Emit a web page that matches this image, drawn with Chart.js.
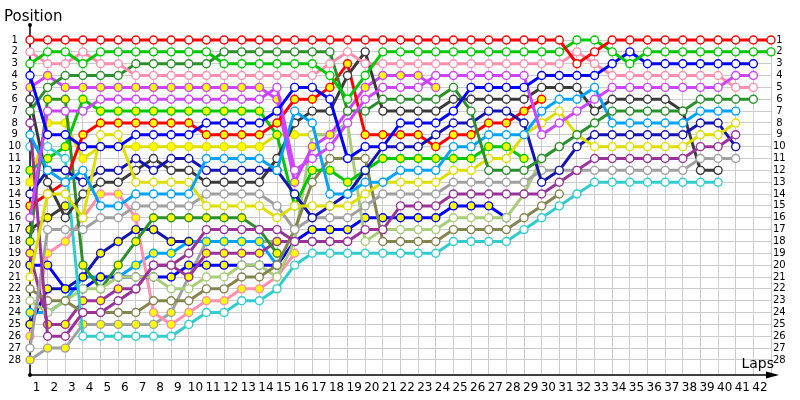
<!DOCTYPE html>
<html>
<head>
<meta charset="utf-8">
<script src="https://cdn.jsdelivr.net/npm/chart.js@4.4.0/dist/chart.umd.min.js"></script>
<style>
  html, body { margin: 0; padding: 0; background: #ffffff; }
  #wrap { width: 800px; height: 400px; }
</style>
</head>
<body>
<div id="wrap"><canvas id="lapChart" width="800" height="400"></canvas></div>
<script>
// laps 0..42 and grid positions 1..28
const laps = [0,1,2,3,4,5,6,7,8,9,10,11,12,13,14,15,16,17,18,19,20,21,22,23,24,25,26,27,28,29,30,31,32,33,34,35,36,37,38,39,40,41,42];
const positions = [1,2,3,4,5,6,7,8,9,10,11,12,13,14,15,16,17,18,19,20,21,22,23,24,25,26,27,28];

// position of each car after every lap (index = lap)
const redW       = [1,1,1,1,1,1,1,1,1,1, 1,1,1,1,1,1,1,1,1,1, 1,1,1,1,1,1,1,1,1,1, 1,3,2,1,1,1,1,1,1,1, 1,1,1];
const greenW     = [3,2,2,3,2,2,2,2,2,2, 2,3,3,3,3,3,3,4,6,4, 2,2,2,2,2,2,2,2,2,2, 2,1,1,2,3,2,2,2,2,2, 2,2,2];
const blueW      = [4,9,9,10,10,10,9,9,9,9, 8,8,8,8,7,5,5,6,11,10, 10,8,8,8,7,5,5,5,5,4, 4,4,4,3,2,3,3,3,3,3, 3,3];
const violetW    = [16,7,7,7,6,6,6,6,6,6, 6,6,6,6,5,12,11,10,8,6, 5,5,5,4,4,4,4,4,4,9, 8,7,6,5,5,5,5,5,5,5, 4,4];
const pinkW      = [2,3,3,2,3,3,4,4,4,4, 4,4,4,4,4,4,4,3,2,3, 3,3,3,3,3,3,3,3,3,3, 3,2,3,4,4,4,4,4,4,4, 5,5];
const darkgreenW = [7,5,4,4,4,4,3,3,3,3, 3,2,2,2,2,2,2,2,7,7, 6,6,6,6,5,7,12,12,12,11, 10,9,8,7,7,7,7,7,6,6, 6,6];
const lightblueW = [9,12,13,12,15,15,14,14,14,14, 11,11,11,11,12,7,8,14,14,13, 13,12,12,12,10,10,9,9,9,7, 6,6,5,8,8,8,8,8,7,7, 7];
const yellowW    = [21,14,14,16,9,9,13,13,13,13, 15,15,15,15,16,15,15,15,15,14, 13,13,13,13,12,12,11,11,9,8, 7,9,10,10,10,10,10,10,9,9, 8];
const purpleW    = [8,26,26,24,24,23,22,20,20,19, 17,17,17,17,17,18,18,18,18,17, 17,15,15,15,14,14,14,14,14,14, 13,12,11,11,11,11,11,11,10,10, 9];
const navyW      = [14,12,12,13,12,12,11,12,11,11, 12,12,12,12,12,14,16,15,14,12, 10,10,10,9,8,8,7,7,8,13, 12,10,9,9,9,9,9,9,8,8, 10];
const lightgrayW = [27,17,17,17,16,16,15,15,15,15, 14,14,14,14,15,17,16,16,16,15, 14,14,14,14,13,13,13,13,13,12, 12,12,12,12,12,12,12,12,11,11, 11];
const darkgrayW  = [6,13,16,14,13,13,12,11,12,12, 13,13,13,13,11,8,7,7,4,2, 7,7,7,7,6,6,6,6,6,5, 5,5,7,6,6,6,6,7,12,12];
const cyanW      = [10,10,11,26,26,26,26,26,26,25, 24,24,23,23,22,20,19,19,19,19, 19,19,19,19,18,18,18,18,17,16, 15,14,13,13,13,13,13,13,13,13];
const oliveW     = [22,23,23,24,24,24,24,23,23,23, 22,22,21,21,20,17,13,11,11,11, 18,18,18,18,17,17,17,17,16,15, 14];
const lightgreenW= [23,24,23,22,22,21,21,21,22,22, 21,21,20,20,21,18,9,9,8,18, 17,17,17,17,16,16,16,16,14,11, 10];
const redY       = [15,14,13,9,8,8,8,8,8,8, 9,9,9,9,8,6,6,5,3,9, 9,9,9,10,9,9,8,8,7,6];
const greenY     = [12,11,10,6,7,7,7,7,7,7, 7,7,7,7,9,15,12,12,13,12, 11,11,11,11,11,11,10,10,11];
const violetY    = [5,4,5,5,5,5,5,5,5,5, 5,5,5,5,6,13,10,9,7,5, 4,4,4,5];
const darkgreenY = [18,6,6,20,22,20,18,16,16,16, 16,16,16,17,19];
const yellowY    = [13,8,8,11,10,10,10,10,10,10, 10,10,10,10,9,9,9,9];
const purpleY    = [19,25,25,23,23,22,22,20,20,21, 19,19,19,19,18,18,18,18,18];
const blueY      = [20,20,22,22,21,21,21,21,21,20, 20,20,20,20,20,18,17,17,17,16, 16,16,16,16,15,15,15,16];
const navyY      = [25,22,22,21,19,18,17,17,18,18];
const pinkY      = [26,19,18,16,14,14,16,24,25,24, 23,23,22,22,21,19];
const lightblueY = [24,24,23,21,21,21,20,19,19,18, 18,18,18,18,20];
const lightgrayY = [28,27,27,25,25,25,25,25,24,21, 18,18,18,18,18];
const darkgrayY  = [17,16,15];

const teamColor = {
  red: '#ff0000', green: '#00c800', blue: '#0000ff', violet: '#cc44ff',
  pink: '#ff8fae', darkgreen: '#2b8f2b', lightblue: '#00a2ff', yellow: '#dede00',
  purple: '#993399', navy: '#1414b4', lightgray: '#a0a0a0', darkgray: '#3a3a3a',
  cyan: '#33cccc', olive: '#848450', lightgreen: '#a8cc78'
};

// [series, team, second driver (yellow marker)]
const cars = [
  [redW, 'red', false], [greenW, 'green', false], [blueW, 'blue', false],
  [violetW, 'violet', false], [pinkW, 'pink', false], [darkgreenW, 'darkgreen', false],
  [lightblueW, 'lightblue', false], [yellowW, 'yellow', false], [purpleW, 'purple', false],
  [navyW, 'navy', false], [lightgrayW, 'lightgray', false], [darkgrayW, 'darkgray', false],
  [cyanW, 'cyan', false], [redY, 'red', true], [greenY, 'green', true],
  [violetY, 'violet', true], [oliveW, 'olive', false], [lightgreenW, 'lightgreen', false],
  [darkgreenY, 'darkgreen', true], [yellowY, 'yellow', true], [purpleY, 'purple', true],
  [blueY, 'blue', true], [navyY, 'navy', true], [pinkY, 'pink', true],
  [lightblueY, 'lightblue', true], [lightgrayY, 'lightgray', true], [darkgrayY, 'darkgray', true]
];

const datasets = cars.map(function(c) {
  const col = teamColor[c[1]];
  return {
    data: c[0].map((p, i) => ({ x: laps[i], y: p })),
    borderColor: col,
    borderWidth: 3,
    pointRadius: 4,
    pointBorderWidth: 1.4,
    pointBorderColor: col,
    pointBackgroundColor: c[2] ? '#ffff00' : '#ffffff',
    tension: 0,
    clip: false,
    yAxisID: 'y'
  };
});

const axisFont = { family: 'DejaVu Sans', size: 10 };

// axis lines with arrow and the two captions
const lapAxes = {
  id: 'lapAxes',
  beforeDatasetsDraw(chart) {
    const ctx = chart.ctx, a = chart.chartArea;
    ctx.save();
    ctx.strokeStyle = '#000';
    ctx.fillStyle = '#000';
    ctx.lineWidth = 1.5;
    ctx.beginPath();
    ctx.moveTo(a.left, a.bottom);
    ctx.lineTo(a.left, a.top - 15);
    ctx.moveTo(a.left, a.bottom);
    ctx.lineTo(a.right + 5, a.bottom);
    ctx.stroke();
    ctx.beginPath();
    ctx.moveTo(a.right + 8, a.bottom);
    ctx.lineTo(a.right - 5, a.bottom - 3.5);
    ctx.lineTo(a.right - 5, a.bottom + 3.5);
    ctx.closePath();
    ctx.fill();
    ctx.beginPath();
    ctx.arc(a.left, a.top - 15, 2, 0, Math.PI * 2);
    ctx.arc(a.left, a.bottom, 2, 0, Math.PI * 2);
    ctx.fill();
    ctx.restore();
  },
  afterDraw(chart) {
    const ctx = chart.ctx, a = chart.chartArea;
    ctx.save();
    ctx.fillStyle = '#000';
    ctx.font = '15px "DejaVu Sans"';
    ctx.textAlign = 'left';
    ctx.fillText('Position', 4, 21);
    ctx.font = '14px "DejaVu Sans"';
    ctx.textAlign = 'right';
    ctx.fillText('Laps', a.right + 3, a.bottom - 7);
    ctx.restore();
  }
};

new Chart(document.getElementById('lapChart'), {
  type: 'line',
  data: { datasets: datasets },
  plugins: [lapAxes],
  options: {
    responsive: false,
    animation: false,
    layout: { padding: { top: 40, left: 0, right: 0, bottom: 0 } },
    plugins: { legend: { display: false }, tooltip: { enabled: false } },
    scales: {
      x: {
        type: 'linear', min: 0, max: 42,
        afterBuildTicks: s => { s.ticks = laps.map(v => ({ value: v })); },
        afterFit: s => { s.height = 25; },
        grid: { color: '#cccccc', lineWidth: 1, drawTicks: false },
        border: { display: false },
        ticks: {
          autoSkip: false, maxRotation: 0, labelOffset: -11, padding: 6,
          color: '#000', font: { family: 'DejaVu Sans', size: 12 },
          callback: v => (v === 0 ? '' : String(v))
        }
      },
      y: {
        type: 'linear', position: 'left', reverse: true, min: 1, max: 29.27,
        afterBuildTicks: s => { s.ticks = positions.map(v => ({ value: v })); },
        afterFit: s => { s.width = 30; },
        grid: { color: '#cccccc', lineWidth: 1, drawTicks: false },
        border: { display: false },
        ticks: { autoSkip: false, crossAlign: 'center', padding: 9, color: '#000', font: axisFont }
      },
      y2: {
        type: 'linear', position: 'right', reverse: true, min: 1, max: 29.27,
        afterBuildTicks: s => { s.ticks = positions.map(v => ({ value: v })); },
        afterFit: s => { s.width = 29; },
        grid: { display: false, drawTicks: false },
        border: { display: false },
        ticks: { autoSkip: false, crossAlign: 'center', padding: 2, color: '#000', font: axisFont }
      }
    }
  }
});
</script>
</body>
</html>
